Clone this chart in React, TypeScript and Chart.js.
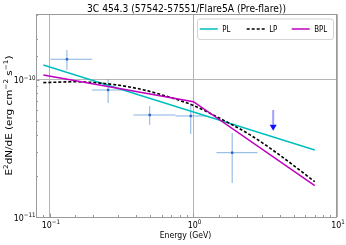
import React, { useEffect, useRef } from 'react';
import { Chart, registerables } from 'chart.js';

Chart.register(...registerables);

const chartTitle = '3C 454.3 (57542-57551/Flare5A (Pre-flare))';
const xAxisTitle = 'Energy (GeV)';

// Flux points with error bars
const fluxEnergy = [0.1314, 0.2544, 0.496, 0.9576, 1.861];
const fluxEnergyLow = [0.1008, 0.1968, 0.382, 0.749, 1.446];
const fluxEnergyHigh = [0.1968, 0.3358, 0.749, 1.232, 2.793];
const fluxValue = [1.416e-10, 8.45e-11, 5.55e-11, 5.46e-11, 2.946e-11];
const fluxLow = [1.183e-10, 6.795e-11, 4.694e-11, 4.036e-11, 1.77e-11];
const fluxHigh = [1.656e-10, 1.017e-10, 6.46e-11, 6.57e-11, 4.103e-11];

// Upper limit
const ulEnergy = [3.593];
const ulValue = [6.04e-11];
const ulArrowTip = [4.26e-11];

// Model curves
const plEnergy = [0.09, 7.0];
const plValue = [1.287e-10, 3.083e-11];
const lpEnergy = [0.09, 0.15, 0.25, 0.4, 0.6, 1.0, 1.5, 2.5, 4.0, 7.0];
const lpValue = [9.57e-11, 9.7e-11, 9.38e-11, 8.7e-11, 7.8e-11, 6.51e-11, 5.3e-11, 3.955e-11, 2.825e-11, 1.81e-11];
const bplEnergy = [0.09, 1.0, 7.0];
const bplValue = [1.088e-10, 6.94e-11, 1.692e-11];

// Ticks / ranges
const xTickValues = [0.1, 1, 10];
const xTickExponents = ['\u22121', '0', '1'];
const yTickValues = [1e-11, 1e-10];
const yTickExponents = ['\u221211', '\u221210'];
const xRange = [0.08, 10];
const yRange = [1e-11, 3.03e-10];

const FONT = "'DejaVu Sans', 'Noto Sans', sans-serif";
const SQ = 0.88;

type Part = { t: string; sup?: boolean };

function drawParts(
  ctx: CanvasRenderingContext2D,
  parts: Part[],
  x: number,
  y: number,
  size: number,
  align: 'left' | 'center' | 'right',
  rotated = false,
  color = '#000'
) {
  ctx.save();
  ctx.translate(x, y);
  if (rotated) {
    ctx.rotate(-Math.PI / 2);
    ctx.scale(1, SQ);
  } else {
    ctx.scale(SQ, 1);
  }
  const supSize = size * 0.7;
  const widths = parts.map((p) => {
    ctx.font = `${p.sup ? supSize : size}px ${FONT}`;
    return ctx.measureText(p.t).width;
  });
  const total = widths.reduce((a, b) => a + b, 0);
  let cx = align === 'left' ? 0 : align === 'center' ? -total / 2 : -total;
  ctx.textBaseline = 'alphabetic';
  ctx.textAlign = 'left';
  ctx.fillStyle = color;
  parts.forEach((p, i) => {
    ctx.font = `${p.sup ? supSize : size}px ${FONT}`;
    ctx.fillText(p.t, cx, p.sup ? -size * 0.42 : 0);
    cx += widths[i];
  });
  ctx.restore();
}

const isDecade = (v: number) => {
  const l = Math.log10(v);
  return Math.abs(l - Math.round(l)) < 1e-9;
};

const decorPlugin = {
  id: 'decor',
  beforeDatasetsDraw(chart: any) {
    const { ctx, scales } = chart;
    const xs = scales.x;
    const ys = scales.y;
    ctx.save();
    ctx.strokeStyle = 'rgba(110,165,220,0.85)';
    ctx.lineWidth = 1;
    for (let i = 0; i < fluxEnergy.length; i++) {
      const px = xs.getPixelForValue(fluxEnergy[i]);
      const py = ys.getPixelForValue(fluxValue[i]);
      ctx.beginPath();
      ctx.moveTo(xs.getPixelForValue(fluxEnergyLow[i]), py);
      ctx.lineTo(xs.getPixelForValue(fluxEnergyHigh[i]), py);
      ctx.moveTo(px, ys.getPixelForValue(fluxLow[i]));
      ctx.lineTo(px, ys.getPixelForValue(fluxHigh[i]));
      ctx.stroke();
    }
    ctx.restore();
  },
  afterDatasetsDraw(chart: any) {
    const { ctx, scales } = chart;
    const xs = scales.x;
    const ys = scales.y;
    ctx.save();
    for (let i = 0; i < ulEnergy.length; i++) {
      const px = xs.getPixelForValue(ulEnergy[i]);
      const top = ys.getPixelForValue(ulValue[i]);
      const tip = ys.getPixelForValue(ulArrowTip[i]);
      const head = 6;
      ctx.strokeStyle = 'rgba(110,110,255,0.65)';
      ctx.lineWidth = 2;
      ctx.beginPath();
      ctx.moveTo(px, top);
      ctx.lineTo(px, tip - head);
      ctx.stroke();
      ctx.fillStyle = '#1010ff';
      ctx.beginPath();
      ctx.moveTo(px - 3.5, tip - head);
      ctx.lineTo(px + 3.5, tip - head);
      ctx.lineTo(px, tip);
      ctx.closePath();
      ctx.fill();
    }
    ctx.restore();
  },
  afterDraw(chart: any) {
    const { ctx, chartArea, scales } = chart;
    const xs = scales.x;
    const ys = scales.y;
    const { left, right, top, bottom } = chartArea;
    ctx.save();
    // frame
    ctx.strokeStyle = '#9a9a9a';
    ctx.lineWidth = 1;
    ctx.strokeRect(left + 0.5, top + 0.5, right - left - 1, bottom - top);
    // inward ticks
    ctx.beginPath();
    xs.ticks.forEach((t: any) => {
      const px = Math.round(xs.getPixelForValue(t.value)) + 0.5;
      if (px < left || px > right) return;
      const len = isDecade(t.value) ? 3.5 : 2;
      ctx.moveTo(px, bottom);
      ctx.lineTo(px, bottom - len);
    });
    ys.ticks.forEach((t: any) => {
      const py = Math.round(ys.getPixelForValue(t.value)) + 0.5;
      if (py < top || py > bottom) return;
      const len = isDecade(t.value) ? 3.5 : 2;
      ctx.moveTo(left, py);
      ctx.lineTo(left + len, py);
    });
    ctx.stroke();
    ctx.restore();

    // tick labels
    xTickValues.forEach((v, i) => {
      const px = xs.getPixelForValue(v);
      drawParts(ctx, [{ t: '10' }, { t: xTickExponents[i], sup: true }], px + 1, bottom + 10.5, 9, 'center');
    });
    yTickValues.forEach((v, i) => {
      const py = ys.getPixelForValue(v);
      drawParts(ctx, [{ t: '10' }, { t: yTickExponents[i], sup: true }], left - 0.5, py + 3.5, 9, 'right');
    });

    // titles
    const cx = (left + right) / 2;
    drawParts(ctx, [{ t: chartTitle }], cx, 12, 10.4, 'center');
    drawParts(ctx, [{ t: xAxisTitle }], cx - 1, 238, 8.8, 'center');
    drawParts(
      ctx,
      [
        { t: 'E' },
        { t: '2', sup: true },
        { t: 'dN/dE (erg cm' },
        { t: '\u22122', sup: true },
        { t: ' s' },
        { t: '\u22121', sup: true },
        { t: ')' },
      ],
      11.5,
      (top + bottom) / 2,
      10.4,
      'center',
      true
    );

    // legend
    const bw = 136;
    const bh = 20.5;
    const bx = right - 4 - bw;
    const by = top + 4.5;
    ctx.save();
    ctx.fillStyle = 'rgba(255,255,255,0.85)';
    ctx.strokeStyle = '#d4d4d4';
    ctx.lineWidth = 1;
    ctx.beginPath();
    (ctx as any).roundRect(bx + 0.5, by + 0.5, bw, bh, 2.5);
    ctx.fill();
    ctx.stroke();
    const items = chart.data.datasets.filter((d: any) => d.legend);
    const offs = [2.7, 49.7, 94.7];
    const ly = by + 10.5;
    items.forEach((d: any, i: number) => {
      const x0 = bx + offs[i];
      ctx.strokeStyle = d.borderColor;
      ctx.lineWidth = 1.5;
      ctx.setLineDash(d.borderDash || []);
      ctx.beginPath();
      ctx.moveTo(x0, ly);
      ctx.lineTo(x0 + 18, ly);
      ctx.stroke();
      ctx.setLineDash([]);
      drawParts(ctx, [{ t: d.label }], x0 + 22.5, ly + 3.2, 8, 'left');
    });
    ctx.restore();
  },
};

const toXY = (xs: number[], ys: number[]) => xs.map((x, i) => ({ x, y: ys[i] }));

export default function App() {
  const ref = useRef<HTMLCanvasElement | null>(null);
  useEffect(() => {
    document.body.style.margin = '0';
    const canvas = ref.current;
    if (!canvas) return;
    const chart = new Chart(canvas, {
      type: 'scatter',
      data: {
        datasets: [
          {
            type: 'line',
            label: 'PL',
            legend: true,
            data: toXY(plEnergy, plValue),
            borderColor: '#00bfbf',
            borderWidth: 1.5,
            pointRadius: 0,
            fill: false,
            order: 3,
          } as any,
          {
            type: 'line',
            label: 'LP',
            legend: true,
            data: toXY(lpEnergy, lpValue),
            borderColor: '#000000',
            borderDash: [3, 2],
            borderWidth: 1.6,
            pointRadius: 0,
            fill: false,
            cubicInterpolationMode: 'monotone',
            order: 2,
          } as any,
          {
            type: 'line',
            label: 'BPL',
            legend: true,
            data: toXY(bplEnergy, bplValue),
            borderColor: '#bf00bf',
            borderWidth: 1.5,
            pointRadius: 0,
            fill: false,
            order: 1,
          } as any,
          {
            type: 'scatter',
            label: 'Flux',
            data: toXY(fluxEnergy, fluxValue),
            pointStyle: 'rect',
            pointRadius: 1.7,
            backgroundColor: '#2f62c8',
            borderWidth: 0,
            order: 4,
          } as any,
        ],
      },
      options: {
        animation: false,
        responsive: false,
        devicePixelRatio: 1,
        layout: { padding: { top: 14, right: 9, left: 0, bottom: 0 } },
        plugins: {
          legend: { display: false },
          title: { display: false },
          tooltip: { enabled: false },
        },
        scales: {
          x: {
            type: 'logarithmic',
            min: xRange[0],
            max: xRange[1],
            border: { display: false },
            grid: {
              drawTicks: false,
              color: (c: any) => (c.tick && isDecade(c.tick.value) ? '#b4b4b4' : 'rgba(0,0,0,0)'),
              lineWidth: 1,
            },
            ticks: { display: false, autoSkip: false },
            afterFit: (s: any) => {
              s.height = 28;
            },
          },
          y: {
            type: 'logarithmic',
            min: yRange[0],
            max: yRange[1],
            border: { display: false },
            grid: {
              drawTicks: false,
              color: (c: any) => (c.tick && isDecade(c.tick.value) ? '#b4b4b4' : 'rgba(0,0,0,0)'),
              lineWidth: 1,
            },
            ticks: { display: false, autoSkip: false },
            afterFit: (s: any) => {
              s.width = 36;
            },
          },
        },
      } as any,
      plugins: [decorPlugin],
    });
    return () => chart.destroy();
  }, []);
  return (
    <div style={{ width: 346, height: 245 }}>
      <canvas ref={ref} width={346} height={245} style={{ display: 'block' }} />
    </div>
  );
}
